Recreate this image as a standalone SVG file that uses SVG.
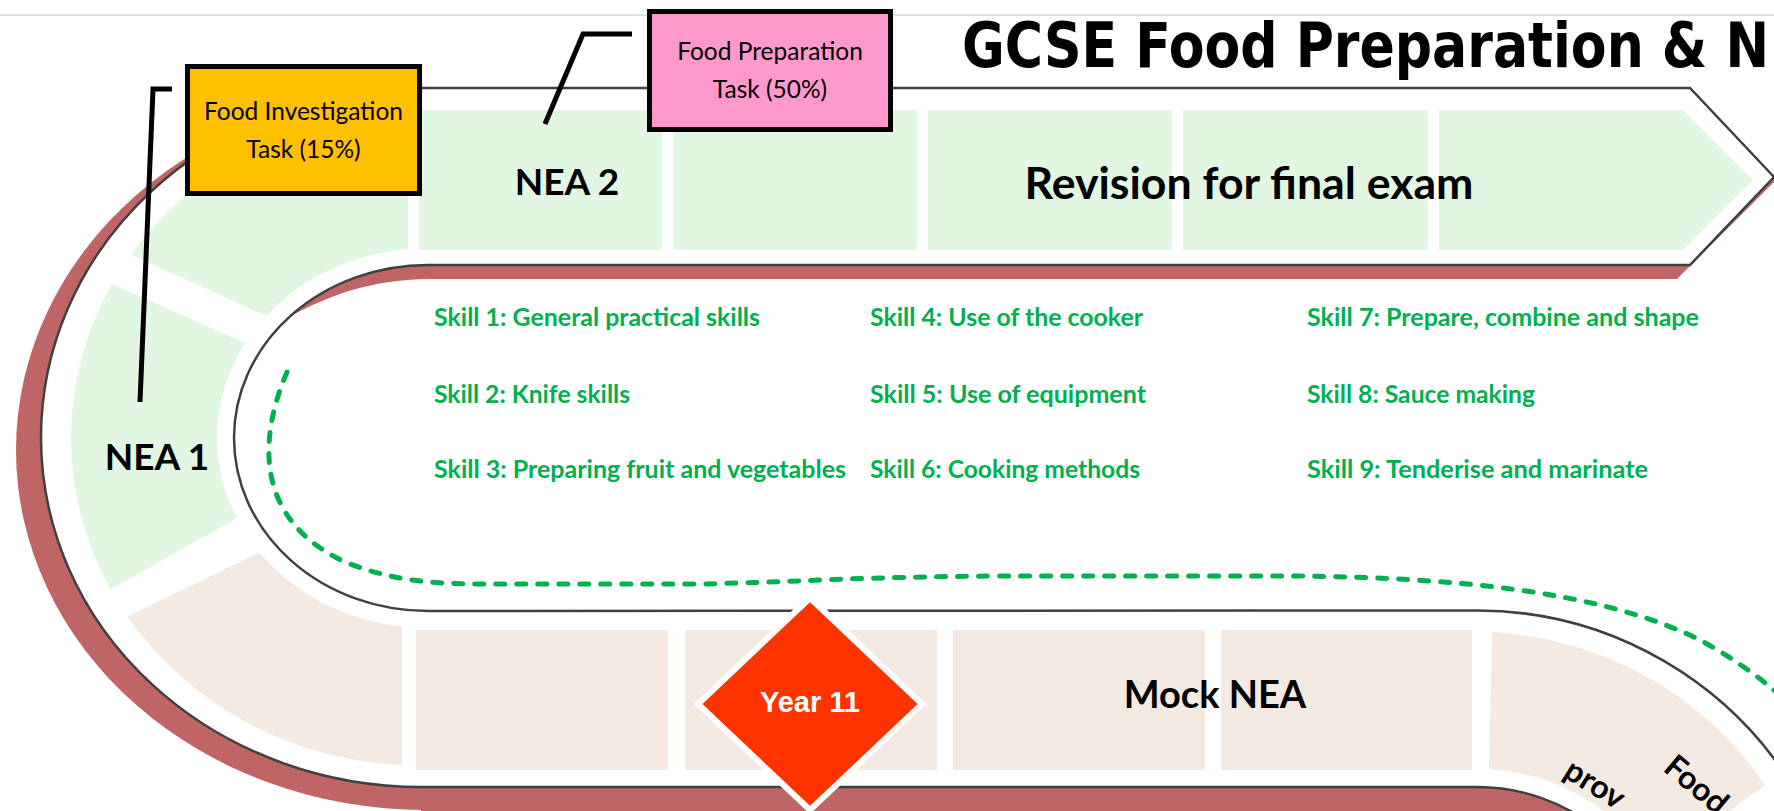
<svg xmlns="http://www.w3.org/2000/svg" width="1774" height="811" viewBox="0 0 1774 811">
<defs>
<style>
.bold{font-family:Lato,"Liberation Sans",sans-serif;font-weight:700;fill:#000}
.reg{font-family:Lato,"Liberation Sans",sans-serif;font-weight:400;fill:#000}
.skill{font-family:Lato,"Liberation Sans",sans-serif;font-weight:700;fill:#00B050;font-size:24px}
.g{fill:#E1F7E2}
.b{fill:#F4EAE1}
.shadow{fill:#C06565}
.leader{fill:none;stroke:#000;stroke-width:5}
.box{stroke:#000;stroke-width:5}
.band{fill:#fff;stroke:#404040;stroke-width:2.5}
.dash{fill:none;stroke:#00B050;stroke-width:5;stroke-dasharray:9 12;stroke-linecap:round}
</style>
</defs>
<rect width="1774" height="811" fill="#fff"/>
<line x1="0" y1="15" x2="1774" y2="15" stroke="#D9D9D9" stroke-width="1.5"/>
<text id="title" x="962" y="67" font-family="DejaVu Sans" font-weight="700" font-size="63" textLength="807" lengthAdjust="spacingAndGlyphs">GCSE Food Preparation &amp; N</text>

<g id="shadows">
<ellipse class="shadow" cx="425" cy="450" rx="409" ry="360"/>
<rect class="shadow" x="421" y="786" width="1360" height="30"/>
<path fill="#fff" d="M 1774 265 L 428 265 A 194 173 0 0 0 428 611 L 1774 611 Z"/>
<path class="shadow" d="M 1774 177 L 1690 265 L 428 265 A 194 173 0 0 0 290 316.4 C 330 295, 370 280, 428 279 L 1677 279 L 1774 182 Z"/>
</g>

<g id="track">
<path class="band" d="M 1774 177 L 1690 88 L 421 88 A 380 349.5 0 0 0 421 787 L 1477 787 A 195 195 0 0 1 1599 830 L 1800 830 L 1800 798.5 A 371.5 371.5 0 0 0 1477 610.5 L 428 611 A 194 173 0 0 1 428 265 L 1690 265 Z"/>
</g>

<g id="tiles">
<path class="g" d="M 408 110.2 A 350 328 0 0 0 130.8 254.6 L 266.4 315.9 A 211 190 0 0 1 408 248.9 Z"/>
<path class="g" d="M 112 284 A 350 328 0 0 0 110.5 589.4 L 236.8 518.3 A 211 190 0 0 1 245.3 343 Z"/>
<path class="b" d="M 127.5 616.6 A 350 328 0 0 0 402 765.5 L 402 626.6 A 211 190 0 0 1 259.5 552.3 Z"/>
<rect class="g" x="419" y="110" width="243" height="140"/>
<rect class="g" x="673" y="110" width="244" height="140"/>
<rect class="g" x="928" y="110" width="244" height="140"/>
<rect class="g" x="1183" y="110" width="245" height="140"/>
<path class="g" d="M 1439 110 L 1683 110 L 1753 180 L 1683 250 L 1439 250 Z"/>
<rect class="b" x="416" y="630" width="252" height="140"/>
<rect class="b" x="685" y="630" width="252" height="140"/>
<rect class="b" x="953" y="630" width="252" height="140"/>
<rect class="b" x="1221" y="630" width="251" height="140"/>
<path class="b" d="M 1492 632.3 A 350 350 0 0 1 1765 785 L 1690 840 L 1610 840 L 1604 811 A 213 213 0 0 0 1489 769.3 Z"/>
</g>

<g id="labels">
<text class="bold" x="567" y="195" font-size="37" text-anchor="middle">NEA 2</text>
<text class="bold" x="1249" y="199" font-size="44" text-anchor="middle" textLength="449" lengthAdjust="spacingAndGlyphs">Revision for final exam</text>
<text class="bold" x="157" y="470" font-size="37" text-anchor="middle">NEA 1</text>
<text class="bold" x="1215" y="708" font-size="38" text-anchor="middle">Mock NEA</text>
<text class="bold" x="1662" y="770" font-size="32" transform="rotate(40 1662 770)">Food</text>
<text class="bold" x="1562" y="776" font-size="32" transform="rotate(32 1562 776)">prov</text>
</g>

<g id="skills">
<text class="skill" x="434" y="326" textLength="326" lengthAdjust="spacingAndGlyphs">Skill 1: General practical skills</text>
<text class="skill" x="434" y="403" textLength="196" lengthAdjust="spacingAndGlyphs">Skill 2: Knife skills</text>
<text class="skill" x="434" y="478" textLength="412" lengthAdjust="spacingAndGlyphs">Skill 3: Preparing fruit and vegetables</text>
<text class="skill" x="870" y="326" textLength="273" lengthAdjust="spacingAndGlyphs">Skill 4: Use of the cooker</text>
<text class="skill" x="870" y="403" textLength="276" lengthAdjust="spacingAndGlyphs">Skill 5: Use of equipment</text>
<text class="skill" x="870" y="478" textLength="270" lengthAdjust="spacingAndGlyphs">Skill 6: Cooking methods</text>
<text class="skill" x="1307" y="326" textLength="392" lengthAdjust="spacingAndGlyphs">Skill 7: Prepare, combine and shape</text>
<text class="skill" x="1307" y="403" textLength="228" lengthAdjust="spacingAndGlyphs">Skill 8: Sauce making</text>
<text class="skill" x="1307" y="478" textLength="341" lengthAdjust="spacingAndGlyphs">Skill 9: Tenderise and marinate</text>
</g>

<g id="connectors">
<path class="dash" d="M 287 372 C 258 440, 255 520, 345 562 C 390 580, 430 584, 480 584 L 700 584 C 800 582, 850 577, 1000 576 L 1300 576 C 1450 578, 1600 590, 1700 640 C 1740 662, 1770 685, 1790 705"/>
<polyline class="leader" points="172,89 153,89 140,402"/>
<polyline class="leader" points="632,34 583,34 545,124"/>
</g>

<g id="year11">
<polygon points="810,598 922,704 810,810 698,704" fill="#FF3300" stroke="#fff" stroke-width="6"/>
<text x="810" y="712" font-family="Liberation Sans" font-weight="700" font-size="29" fill="#fff" text-anchor="middle">Year 11</text>
</g>

<g id="investigation">
<rect class="box" x="187.5" y="66.5" width="232" height="127" fill="#FFC000"/>
<text class="reg" x="303.5" y="120" font-size="24.5" text-anchor="middle">Food Investigation</text>
<text class="reg" x="303.5" y="158" font-size="24.5" text-anchor="middle">Task (15%)</text>
</g>

<g id="preparation">
<rect class="box" x="649.5" y="11.5" width="241" height="118" fill="#FF99CC"/>
<text class="reg" x="770" y="60" font-size="24.5" text-anchor="middle">Food Preparation</text>
<text class="reg" x="770" y="98" font-size="24.5" text-anchor="middle">Task (50%)</text>
</g>
</svg>
